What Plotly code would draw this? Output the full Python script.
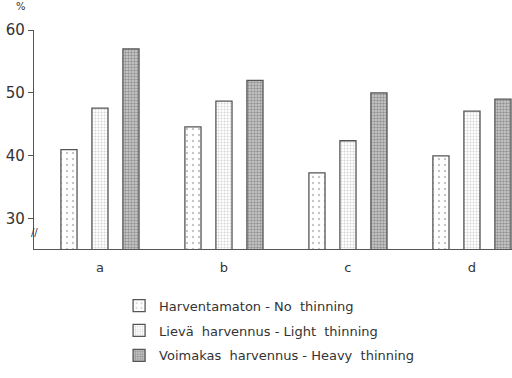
import plotly.graph_objects as go

categories = ["a", "b", "c", "d"]
series_names = [
    "Harventamaton - No  thinning",
    "Lievä  harvennus - Light  thinning",
    "Voimakas  harvennus - Heavy  thinning",
]
no_thinning = [41.0, 44.6, 37.3, 40.0]
light_thinning = [47.6, 48.7, 42.4, 47.1]
heavy_thinning = [57.0, 52.0, 50.0, 49.0]
y_ticks = [30, 40, 50, 60]

offsets = [-0.25, 0.0, 0.25]
patterns = [
    dict(shape=".", size=6, solidity=0.12, fgcolor="#8a8a8a", bgcolor="white"),
    dict(shape=".", size=3, solidity=0.35, fgcolor="#a8a8a8", bgcolor="white"),
    dict(shape=".", size=3, solidity=0.5, fgcolor="#555555", bgcolor="#cfcfcf"),
]
xs = list(range(len(categories)))

fig = go.Figure()
for name, vals, off, pat in zip(series_names, [no_thinning, light_thinning, heavy_thinning], offsets, patterns):
    fig.add_trace(go.Bar(
        x=[x + off for x in xs], y=vals, base=0, width=0.13, name=name,
        marker=dict(color="white", pattern=pat, line=dict(color="#555555", width=1.3)),
        legendgroup=name,
    ))

fig.update_layout(
    width=512, height=378,
    margin=dict(l=34, r=0, t=30, b=129),
    plot_bgcolor="white", paper_bgcolor="white",
    font=dict(family="DejaVu Sans", color="#333333", size=13),
    barmode="overlay",
    showlegend=True,
    legend=dict(x=0.178, y=-0.19, xanchor="left", yanchor="top",
                font=dict(size=13, color="#333333"), tracegroupgap=5,
                bgcolor="rgba(0,0,0,0)"),
    xaxis=dict(range=[-0.532, 3.323], tickvals=xs, ticktext=categories,
               showline=True, linecolor="#555555", linewidth=1.3,
               ticks="", showgrid=False, zeroline=False, ticklabelstandoff=6,
               tickfont=dict(size=13, color="#333333")),
    yaxis=dict(range=[25.2, 60], tickvals=y_ticks, showline=True,
               linecolor="#555555", linewidth=1.3, ticks="outside",
               ticklen=5, tickcolor="#555555", showgrid=False, zeroline=False,
               tickfont=dict(size=15, color="#333333")),
    annotations=[
        dict(text="%", x=-0.028, y=1.075, xref="paper", yref="paper",
             xanchor="center", yanchor="bottom", showarrow=False,
             font=dict(size=10, color="#333333")),
        dict(text="//", x=0, y=27.8, xref="paper", yref="y",
             xanchor="center", yanchor="middle", showarrow=False,
             font=dict(size=10, color="#333333")),
    ],
)

fig.write_html("out.html")
